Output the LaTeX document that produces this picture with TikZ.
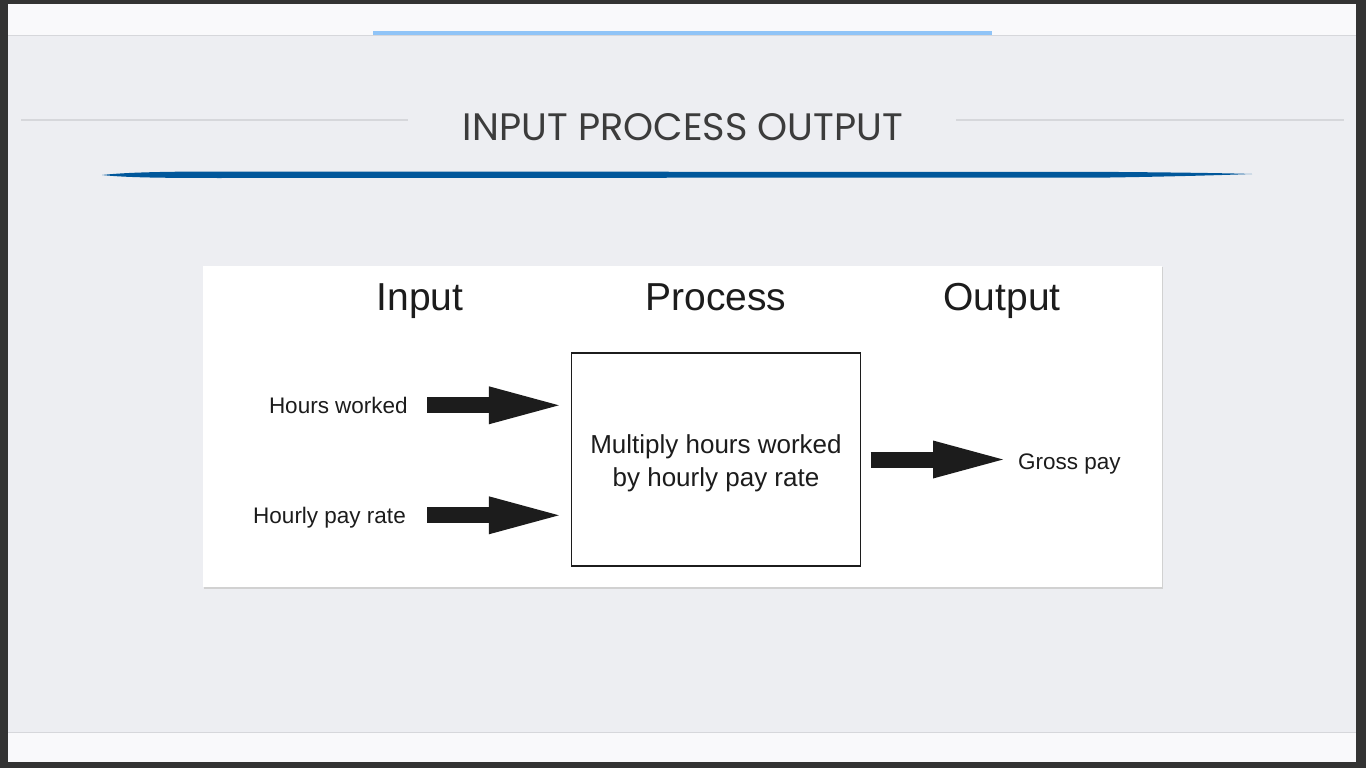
\documentclass[tikz,border=0pt]{standalone}
\usepackage{fontspec}
\usepackage{graphicx}
\setmainfont{Liberation Sans}
\newfontfamily\titlefont{Poppins}
\usetikzlibrary{arrows.meta}

\definecolor{framec}{HTML}{333333}
\definecolor{barc}{HTML}{F9F9FB}
\definecolor{slidec}{HTML}{EDEEF2}
\definecolor{skyc}{HTML}{90C4F7}
\definecolor{rulec}{HTML}{D6D7DB}
\definecolor{brushc}{HTML}{00579B}
\definecolor{titlec}{HTML}{3C3C3C}
\definecolor{inkc}{HTML}{1C1C1C}

\tikzset{
  bigarrow/.style={draw=inkc, line width=16pt,
    -{Triangle[length=70pt,width=38pt,line width=0pt]}},
  lbl/.style={inner sep=0pt, text height=16pt, text depth=0pt, text=inkc,
    font=\fontsize{22.5pt}{27pt}\selectfont},
  head/.style={inner sep=0pt, text=inkc, font=\fontsize{39pt}{44pt}\selectfont}
}

\begin{document}
\begin{tikzpicture}[x=1pt,y=-1pt]
\path[use as bounding box] (0,0) rectangle (1366,768);

\fill[framec] (0,0) rectangle (1366,768);
\fill[barc] (8,4) rectangle (1356,762);
\fill[slidec] (8,35) rectangle (1356,732.5);
\draw[rulec, line width=1pt] (8,35.5) -- (1356,35.5);
\draw[rulec, line width=1pt] (8,732.5) -- (1356,732.5);
\fill[skyc] (373,31) rectangle (992,35);

\draw[rulec, line width=1.5pt] (21,120) -- (408,120);
\draw[rulec, line width=1.5pt] (956,120) -- (1344,120);
\node[anchor=base, inner sep=0pt, text=titlec] (title) at (683,140.7)
  {\resizebox{440pt}{27pt}{\titlefont INPUT PROCESS OUTPUT}};

\fill[brushc] (102,175) .. controls (125,172.5) and (160,171.5) .. (220,171.5)
  -- (1120,172) .. controls (1180,172.5) and (1230,173.2) .. (1252,174)
  .. controls (1225,175) and (1175,176.5) .. (1110,177.5)
  -- (220,178) .. controls (160,178) and (125,177.5) .. (102,175) -- cycle;

\fill[black!18] (203.5,267) rectangle (1163,588.5);
\fill[white] (203,266) rectangle (1162,587);

\node[head, anchor=base] (hin) at (420,310.7) {Input};
\node[head, anchor=base] (hproc) at (716,310.7) {Process};
\node[head, anchor=base] (hout) at (1002,310.7) {Output};

\node[draw=inkc, line width=1.3pt, minimum width=289pt, minimum height=213pt,
  inner sep=0pt] (proc) at (716,459.5) {};
\node[align=center, inner sep=0pt, text=inkc,
  font=\fontsize{26pt}{33pt}\selectfont] (ptext) at (716,463.5)
  {Multiply hours worked\\by hourly pay rate};

\node[lbl, anchor=base east] (in1) at (408,413.3) {Hours worked};
\node[lbl, anchor=base east] (in2) at (406,523.3) {Hourly pay rate};
\node[lbl, anchor=base west] (out1) at (1018,469.3) {Gross pay};

\draw[bigarrow, shorten <=19pt, shorten >=12pt] (in1.east) -- (in1.east -| proc.west);
\draw[bigarrow, shorten <=21pt, shorten >=12pt] (in2.east) -- (in2.east -| proc.west);
\draw[bigarrow, shorten <=9.5pt, shorten >=15pt] (proc.east) -- (proc.east -| out1.west);
\end{tikzpicture}
\end{document}
